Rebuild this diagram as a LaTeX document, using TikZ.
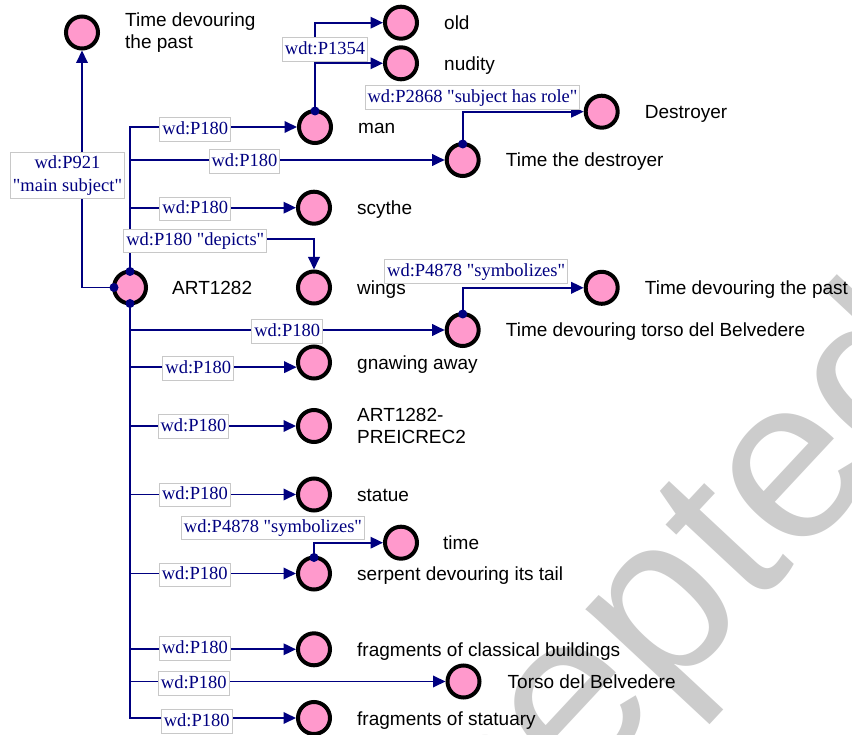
\documentclass[tikz,border=0pt]{standalone}
\usepackage{fontspec}
\setmainfont{Liberation Sans}
\newfontfamily\serifface{Liberation Serif}
\usetikzlibrary{arrows.meta,calc}

\definecolor{edgeblue}{RGB}{0,0,128}
\definecolor{nodepink}{RGB}{255,153,204}
\definecolor{boxgrey}{RGB}{200,200,200}

\begin{document}
\begin{tikzpicture}[x=1pt,y=-1pt,
  ent/.style={circle, draw=black, line width=4pt, fill=nodepink,
    minimum size=32pt, inner sep=0pt},
  txt/.style={anchor=base west, inner sep=0pt,
    font=\fontsize{19}{22.5}\selectfont},
  txtii/.style={anchor=west, inner sep=0pt, align=left,
    font=\fontsize{19}{22.5}\selectfont},
  trunk/.style={draw=edgeblue, line width=1.9pt},
  link/.style={trunk, -{Triangle[length=12.5pt,width=11.5pt]}},
  port/.style={circle, fill=edgeblue, inner sep=0pt, minimum size=9pt},
  elab/.style={fill=white, draw=boxgrey, line width=0.9pt, text=edgeblue,
    font=\serifface\fontsize{18.5}{22}\selectfont,
    inner xsep=2.5pt, inner ysep=3pt, text height=13.5pt, text depth=4pt},
  elabii/.style={fill=white, draw=boxgrey, line width=0.9pt, text=edgeblue,
    font=\serifface\fontsize{18.5}{23}\selectfont, align=center,
    inner xsep=2.5pt, inner ysep=3pt},
]
\useasboundingbox (0,0) rectangle (852,735);

% entities
\node[ent] (tdp1)   at (82,32.5) {};
\node[ent] (old)    at (401,22.7) {};
\node[ent] (nud)    at (401,63.3) {};
\node[ent] (man)    at (315,127) {};
\node[ent] (destr)  at (601.7,111.7) {};
\node[ent] (ttd)    at (462.7,160) {};
\node[ent] (scy)    at (314,207.7) {};
\node[ent] (art)    at (130,287.5) {};
\node[ent] (wings)  at (314,287.5) {};
\node[ent] (tdp2)   at (601.7,287.8) {};
\node[ent] (tdt)    at (462.7,330) {};
\node[ent] (gnaw)   at (314,362.5) {};
\node[ent] (prei)   at (314,426) {};
\node[ent] (statue) at (314,494.5) {};
\node[ent] (timen)  at (401,542.7) {};
\node[ent] (serp)   at (314,573.5) {};
\node[ent] (frag)   at (314,649.3) {};
\node[ent] (torso)  at (463.5,681.5) {};
\node[ent] (fstat)  at (314,718) {};

% entity names
\node[txtii] (tdp1l) at ($(tdp1)+(43,0)$) {Time devouring\\the past};
\node[txt] (oldl)    at ($(old)+(43,7)$) {old};
\node[txt] (nudl)    at ($(nud)+(43,7)$) {nudity};
\node[txt] (manl)    at ($(man)+(43,7)$) {man};
\node[txt] (destrl)  at ($(destr)+(43,7)$) {Destroyer};
\node[txt] (ttdl)    at ($(ttd)+(43,7)$) {Time the destroyer};
\node[txt] (scyl)    at ($(scy)+(43,7)$) {scythe};
\node[txt] (artl)    at ($(art)+(42,7)$) {ART1282};
\node[txt] (wingsl)  at ($(wings)+(43,7)$) {wings};
\node[txt] (tdp2l)   at ($(tdp2)+(43,7)$) {Time devouring the past};
\node[txt] (tdtl)    at ($(tdt)+(43,7)$) {Time devouring torso del Belvedere};
\node[txt] (gnawl)   at ($(gnaw)+(43,7)$) {gnawing away};
\node[txtii] (preil) at ($(prei)+(43,0)$) {ART1282-\\PREICREC2};
\node[txt] (statuel) at ($(statue)+(43,7)$) {statue};
\node[txt] (timel)   at ($(timen)+(42,7)$) {time};
\node[txt] (serpl)   at ($(serp)+(43,7)$) {serpent devouring its tail};
\node[txt] (fragl)   at ($(frag)+(43,7)$) {fragments of classical buildings};
\node[txt] (torsol)  at ($(torso)+(44,7)$) {Torso del Belvedere};
\node[txt] (fstatl)  at ($(fstat)+(43,7)$) {fragments of statuary};

% x position of the main trunk and a junction on it
\coordinate (tk) at (130,0);
\coordinate (depj) at (130,239.3);

% connection ports on the circles
\coordinate (artWp) at ($(art)+(-16,0)$);
\coordinate (artNp) at ($(art)+(0,-16)$);
\coordinate (artSp) at ($(art)+(0,16)$);
\coordinate (manNp) at ($(man)+(0,-16)$);
\coordinate (ttdNp) at ($(ttd)+(0,-16)$);
\coordinate (tdtNp) at ($(tdt)+(0,-16)$);
\coordinate (serpNp) at ($(serp)+(0,-16)$);

% connectors
\draw[link] (artWp) -| (tdp1.south);
\draw[link] (artNp) |- (man);
\draw[link] (tk |- ttd) -- (ttd);
\draw[link] (tk |- scy) -- (scy);
\draw[link] (depj) -| (wings);
\draw[link] (artSp) |- (fstat);
\draw[link] (tk |- tdt) -- (tdt);
\draw[link] (tk |- gnaw.195) -- (gnaw.195);
\draw[link] (tk |- prei) -- (prei);
\draw[link] (tk |- statue) -- (statue);
\draw[link] (tk |- serp) -- (serp);
\draw[link] (tk |- frag) -- (frag);
\draw[link] (tk |- torso) -- (torso);
\draw[link] (manNp) |- (old);
\draw[link] (manNp |- nud) -- (nud);
\draw[link] (ttdNp) |- (destr);
\draw[link] (tdtNp) |- (tdp2);
\draw[link] (serpNp) |- (timen);

% port dots
\foreach \p in {artWp,artNp,artSp,manNp,ttdNp,tdtNp,serpNp}
  \node[port] at (\p) {};

% property labels
\node[elabii] (lms) at (67.5,175.3) {wd:P921\\"main subject"};
\node[elab] (l1)  at (195.3,129.5) {wd:P180};
\node[elab] (l2)  at (244.5,161.5) {wd:P180};
\node[elab] (l3)  at (195.3,209) {wd:P180};
\node[elab] (l4)  at (195.3,240.8) {wd:P180 "depicts"};
\node[elab] (l5)  at (325,49.3) {wdt:P1354};
\node[elab] (l6)  at (472.5,97.5) {wd:P2868 "subject has role"};
\node[elab] (l7)  at (476.2,271.7) {wd:P4878 "symbolizes"};
\node[elab] (l8)  at (287.2,331.5) {wd:P180};
\node[elab] (l9)  at (198.3,368.3) {wd:P180};
\node[elab] (l10) at (193.5,426.3) {wd:P180};
\node[elab] (l11) at (195,495) {wd:P180};
\node[elab] (l12) at (273,528) {wd:P4878 "symbolizes"};
\node[elab] (l13) at (194.7,575) {wd:P180};
\node[elab] (l14) at (195,648.3) {wd:P180};
\node[elab] (l15) at (193.8,683.3) {wd:P180};
\node[elab] (l16) at (196.7,721.3) {wd:P180};

% watermark
\begin{scope}
  \clip (0,0) rectangle (852,735);
  \node[rotate=47, anchor=base west, inner sep=0pt, text=black,
    text opacity=0.2, font=\fontsize{230}{230}\selectfont] (wm)
    at (316,1078) {Accepted};
\end{scope}
\end{tikzpicture}
\end{document}
